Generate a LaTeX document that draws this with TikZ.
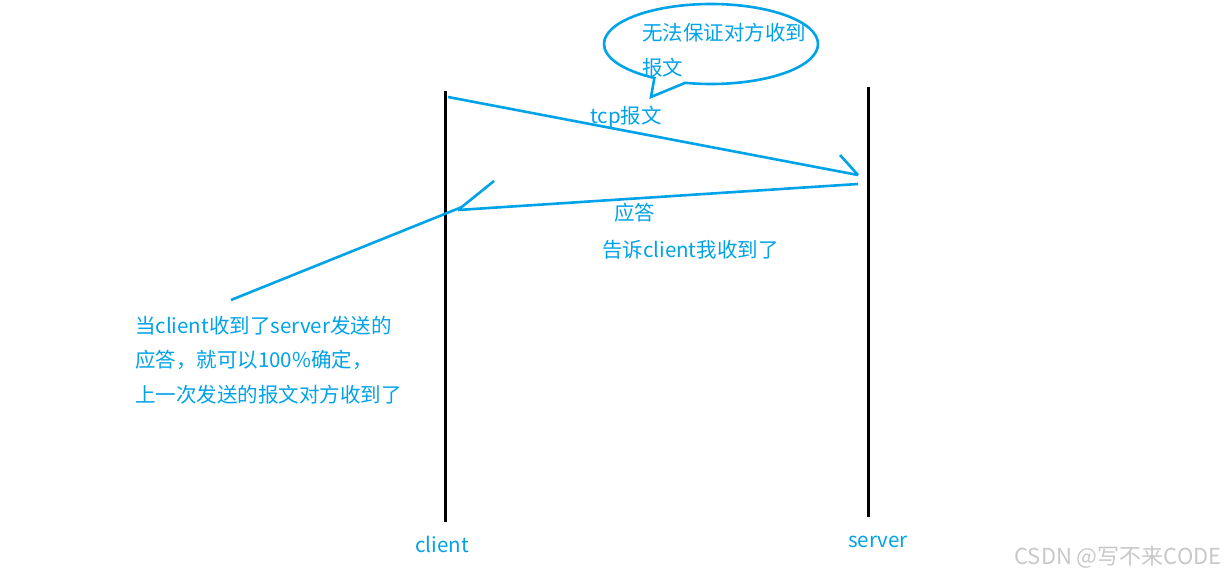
\documentclass[tikz,border=0pt]{standalone}
\usepackage{fontspec}
\setmainfont{Noto Sans CJK SC}
\usetikzlibrary{shapes.callouts}
\usetikzlibrary{positioning}
\definecolor{paintblue}{RGB}{0,162,232}
\definecolor{marklight}{RGB}{200,200,200}

\begin{document}
\begin{tikzpicture}[x=1pt,y=-1pt,
              life/.style={draw=black,line width=3pt},
              msg/.style={draw=paintblue,line width=2.6pt},
              note/.style={text=paintblue,inner sep=0pt,anchor=west,align=left,
                font=\fontsize{20.5}{34.5}\selectfont},
              tag/.style={text=paintblue,inner sep=0pt,font=\fontsize{20.5}{24}\selectfont}]
              \useasboundingbox (0,0) rectangle (1232,578);
              % life lines
              \coordinate (ctop) at (445,91);
              \coordinate (cbot) at (445,522);
              \coordinate (stop) at (868,87);
              \coordinate (sbot) at (868,517);
              \draw[life] (ctop) -- (cbot);
              \draw[life] (stop) -- (sbot);
              \node[tag] (client) at (442,544) {client};
              \node[tag] (server) at (878,542) {server};
              % tcp message
              \coordinate (tcpa) at (448,97);
              \coordinate (tcpb) at (858,175);
              \coordinate (tcptick) at (840,155);
              \draw[msg] (tcpa) -- (tcpb);
              \draw[msg] (tcptick) -- (tcpb);
              \node[note] (tcp) at (590,117) {tcp报文};
              % reply
              \coordinate (ansa) at (858,184);
              \coordinate (ansb) at (458,210);
              \coordinate (anstick) at (494,181);
              \draw[msg] (ansa) -- (ansb);
              \draw[msg] (ansb) -- (anstick);
              \node[note] (ans) at (614,213) {应答};
              \node[note] (tell) at (602,250) {告诉client我收到了};
              % bubble
              \node[ellipse callout,draw=paintblue,line width=2.6pt,
                minimum width=214pt,minimum height=80pt,
                callout absolute pointer={(651,97)},callout pointer arc=18] (bubble) at (711,44) {};
              \node[note] (worry) at (642,50) {无法保证对方收到\\报文};
              % annotation
              \coordinate (pointa) at (231,300);
              \coordinate (pointb) at (462,207);
              \draw[msg] (pointa) -- (pointb);
              \node[note] (sure) at (135,360) {当client收到了server发送的\\应答，就可以100\%确定，\\上一次发送的报文对方收到了};
              \node[text=marklight,inner sep=0pt,font=\fontsize{22}{24}\selectfont] (mark) at (1118,557) {CSDN @写不来CODE};
\end{tikzpicture}
\end{document}
